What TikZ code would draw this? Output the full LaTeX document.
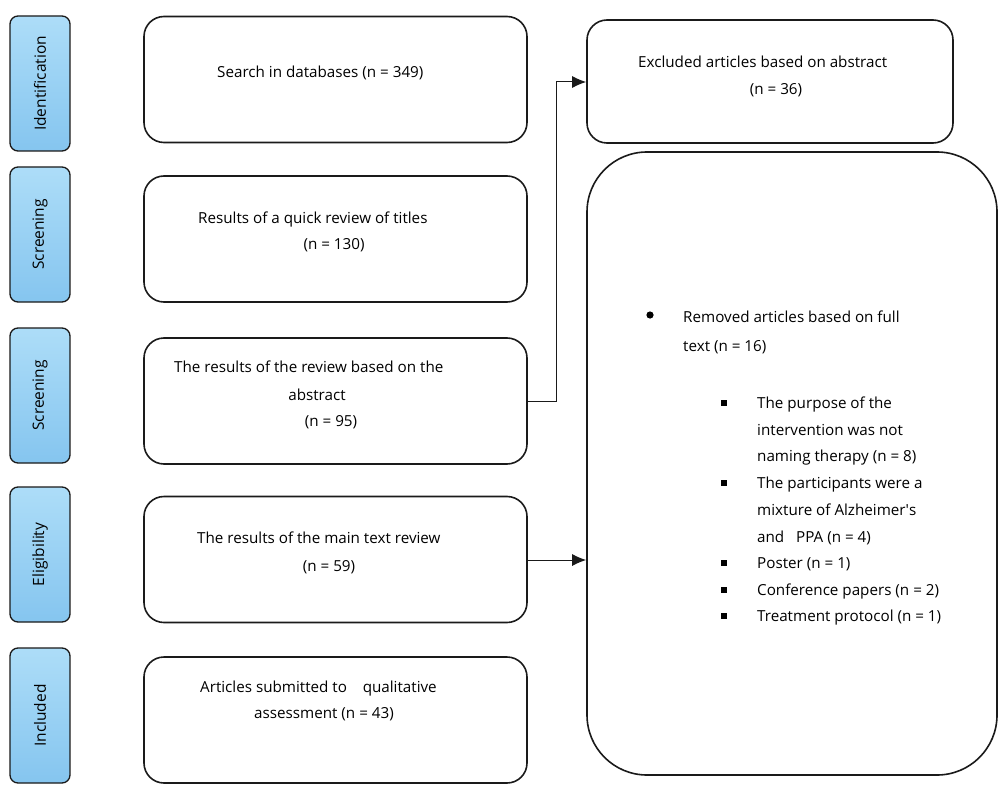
\documentclass[tikz,border=0pt]{standalone}
\usepackage{fontspec}
\setmainfont{Open Sans}
\usetikzlibrary{arrows.meta}
\definecolor{stagetop}{HTML}{ADDDF8}
\definecolor{stagebot}{HTML}{85C5EF}
\definecolor{edge}{HTML}{1A1A1A}
\begin{document}
\begin{tikzpicture}[x=1pt,y=-1pt,
  stage/.style={draw=edge, line width=1.3pt, rounded corners=8pt, top color=stagetop, bottom color=stagebot, minimum width=60pt, minimum height=135pt, inner sep=0pt},
  stagelabel/.style={rotate=90, font=\fontsize{15.5}{17}\selectfont},
  midbox/.style={draw=edge, line width=1.6pt, rounded corners=20pt, minimum width=383pt, minimum height=126pt, inner sep=0pt},
  txt/.style={font=\fontsize{15.2}{17}\selectfont, inner sep=0pt, anchor=base west},
  txtc/.style={font=\fontsize{15.2}{17}\selectfont, inner sep=0pt, anchor=base},
  conn/.style={draw=edge, line width=1pt},
  tip/.style={-{Latex[length=14pt,width=12pt]}}
]
\useasboundingbox (0,0) rectangle (1000,794);
\fill[white] (0,0) rectangle (1000,794);

% stage boxes
\node[stage] (s1) at (40,83.5) {}; \node[stagelabel] (s1t) at (s1) {Identification};
\node[stage] (s2) at (40,234.5) {}; \node[stagelabel] (s2t) at (s2) {Screening};
\node[stage] (s3) at (40,395.5) {}; \node[stagelabel] (s3t) at (s3) {Screening};
\node[stage] (s4) at (40,554.5) {}; \node[stagelabel] (s4t) at (s4) {Eligibility};
\node[stage] (s5) at (40,715.5) {}; \node[stagelabel] (s5t) at (s5) {Included};

% middle boxes
\node[midbox] (b1) at (335.5,79.5) {};
\node[midbox] (b2) at (335.5,239) {};
\node[midbox] (b3) at (335.5,401) {};
\node[midbox] (b4) at (335.5,559.5) {};
\node[midbox] (b5) at (335.5,720) {};

\node[txt] (t1) at (217,78) {Search in databases (n = 349)};
\node[txt] (t2a) at (198,223) {Results of a quick review of titles};
\node[txtc] (t2b) at (334,250) {(n = 130)};
\node[txt] (t3a) at (174,372) {The results of the review based on the};
\node[txtc] (t3b) at (317,400) {abstract};
\node[txtc] (t3c) at (331,426) {(n = 95)};
\node[txt] (t4a) at (197,543) {The results of the main text review};
\node[txtc] (t4b) at (329,571) {(n = 59)};
\node[txt] (t5a) at (200,692) {Articles submitted to\ \ \ \ qualitative};
\node[txtc] (t5b) at (324,718) {assessment (n = 43)};

% right boxes
\node[draw=edge, line width=1.6pt, rounded corners=20pt, minimum width=366pt, minimum height=123pt, inner sep=0pt] (ex) at (770,81.5) {};
\node[txt] (ext1) at (638,68) {Excluded articles based on abstract};
\node[txtc] (ext2) at (776,95) {(n = 36)};

\node[draw=edge, line width=1.6pt, rounded corners=60pt, minimum width=410pt, minimum height=623pt, inner sep=0pt] (rm) at (792,463.5) {};
\fill[black] (650,315) circle (3.6pt);
\node[txt] (r1) at (683,322) {Removed articles based on full};
\node[txt] (r2) at (683,351) {text (n = 16)};
\foreach \yy in {403,483,563,590,616}{
  \fill[black] (721,\yy-3) rectangle (727,\yy+3);
}
\node[txt] (q1) at (757,408) {The purpose of the};
\node[txt] (q2) at (757,435) {intervention was not};
\node[txt] (q3) at (757,461) {naming therapy (n = 8)};
\node[txt] (q4) at (757,488) {The participants were a};
\node[txt] (q5) at (757,515) {mixture of Alzheimer\textquotesingle s};
\node[txt] (q6) at (757,542) {and\ \ \ PPA (n = 4)};
\node[txt] (q7) at (757,568) {Poster (n = 1)};
\node[txt] (q8) at (757,595) {Conference papers (n = 2)};
\node[txt] (q9) at (757,621) {Treatment protocol (n = 1)};

% connectors
\draw[conn, tip] (b3.east) -- (556,401) |- (ex.west |- 0,82);
\draw[conn, tip] (b4.east |- 0,560) -- (rm.west |- 0,560);
\end{tikzpicture}
\end{document}
